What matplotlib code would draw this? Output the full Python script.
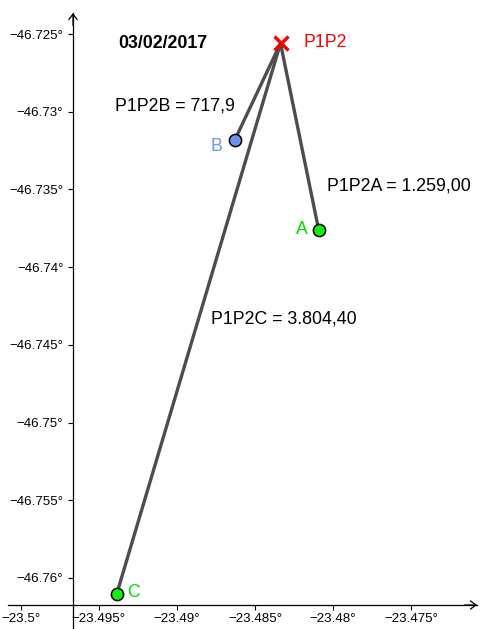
import matplotlib.pyplot as plt
from matplotlib.ticker import FixedLocator, FuncFormatter

plt.rcParams["font.family"] = ["Liberation Sans", "DejaVu Sans"]

# points (x = lat-like axis, y = lon-like axis)
names = ["P1P2", "B", "A", "C"]
xs = [-23.483361, -23.486274, -23.480915, -23.493848]
ys = [-46.725598, -46.731788, -46.737611, -46.761031]

# distance labels
dist_labels = ["P1P2B = 717,9", "P1P2A = 1.259,00", "P1P2C = 3.804,40"]
title = "03/02/2017"

xticks = [-23.5, -23.495, -23.49, -23.485, -23.48, -23.475]
yticks = [-46.725, -46.73, -46.735, -46.74, -46.745, -46.75, -46.755, -46.76]

seg_color = "#4d4d4d"
blue = "#6b93f0"
green = "#11ee11"
label_green = "#00dd00"
red = "#ff0000"

xlim = (-23.501319, -23.470589)
ylim = (-46.763283, -46.722812)
x_cross = -46.761739  # y value where x-axis sits
y_cross = -23.496645  # x value where y-axis sits
x_axis_start, x_axis_end = -23.500807, -23.470781
y_axis_end = -46.723649

fig = plt.figure(figsize=(4.8, 6.29), dpi=100)
ax = fig.add_axes([0, 0, 1, 1])
ax.set_xlim(*xlim)
ax.set_ylim(*ylim)

# axes through the chosen crossing point
ax.spines["top"].set_visible(False)
ax.spines["right"].set_visible(False)
ax.spines["left"].set_position(("data", y_cross))
ax.spines["bottom"].set_position(("data", x_cross))
ax.spines["left"].set_bounds(ylim[0], y_axis_end)
ax.spines["bottom"].set_bounds(x_axis_start, x_axis_end)
for s in ("left", "bottom"):
    ax.spines[s].set_linewidth(0.9)

ax.annotate("", xy=(x_axis_end, x_cross), xytext=(x_axis_end - 0.0008, x_cross),
            arrowprops=dict(arrowstyle="->,head_length=0.4,head_width=0.3",
                            lw=0.9, color="black", shrinkA=0, shrinkB=0,
                            mutation_scale=10))
ax.annotate("", xy=(y_cross, y_axis_end), xytext=(y_cross, y_axis_end - 0.0008),
            arrowprops=dict(arrowstyle="->,head_length=0.4,head_width=0.3",
                            lw=0.9, color="black", shrinkA=0, shrinkB=0,
                            mutation_scale=10))

fmt = FuncFormatter(lambda v, p: f"{v:g}°".replace("-", "\u2212"))
ax.xaxis.set_major_locator(FixedLocator(xticks))
ax.yaxis.set_major_locator(FixedLocator(yticks))
ax.xaxis.set_major_formatter(fmt)
ax.yaxis.set_major_formatter(fmt)
ax.tick_params(axis="both", direction="out", length=3.6, width=0.8,
               labelsize=9.6)
ax.tick_params(axis="x", pad=2.4)
ax.tick_params(axis="y", pad=3.4)

# segments from P1P2 to each point
for i in (1, 2, 3):
    ax.plot([xs[0], xs[i]], [ys[0], ys[i]], color=seg_color, lw=2.4,
            solid_capstyle="round", zorder=2)

# points
ax.plot(xs[1], ys[1], "o", ms=8.8, mfc=blue, mec="black", mew=1.1, zorder=3)
ax.plot(xs[2], ys[2], "o", ms=8.8, mfc=green, mec="black", mew=1.1, zorder=3)
ax.plot(xs[3], ys[3], "o", ms=8.8, mfc=green, mec="black", mew=1.1, zorder=3)
ax.plot(xs[0], ys[0], "x", ms=10, mec=red, mew=2.5, zorder=4)

# point labels
fs = 12.8
ax.annotate(names[0], (xs[0], ys[0]), xytext=(16.2, -2.9), textcoords="offset points",
            color=red, fontsize=fs, ha="left", va="baseline")
ax.annotate(names[1], (xs[1], ys[1]), xytext=(-9.4, -8.1), textcoords="offset points",
            color=blue, fontsize=fs, ha="right", va="baseline")
ax.annotate(names[2], (xs[2], ys[2]), xytext=(-7.7, -2.9), textcoords="offset points",
            color=label_green, fontsize=fs, ha="right", va="baseline")
ax.annotate(names[3], (xs[3], ys[3]), xytext=(7.4, -1.9), textcoords="offset points",
            color=label_green, fontsize=fs, ha="left", va="baseline")

# free texts
ax.text(0.2458, 0.9242, title, transform=ax.transAxes, fontsize=fs,
        fontweight="bold", ha="left", va="baseline")
ax.text(0.2396, 0.8251, dist_labels[0], transform=ax.transAxes, fontsize=fs,
        ha="left", va="baseline")
ax.text(0.6806, 0.6979, dist_labels[1], transform=ax.transAxes, fontsize=fs,
        ha="left", va="baseline")
ax.text(0.4396, 0.4849, dist_labels[2], transform=ax.transAxes, fontsize=fs,
        ha="left", va="baseline")

plt.savefig("out.png", dpi=100)
